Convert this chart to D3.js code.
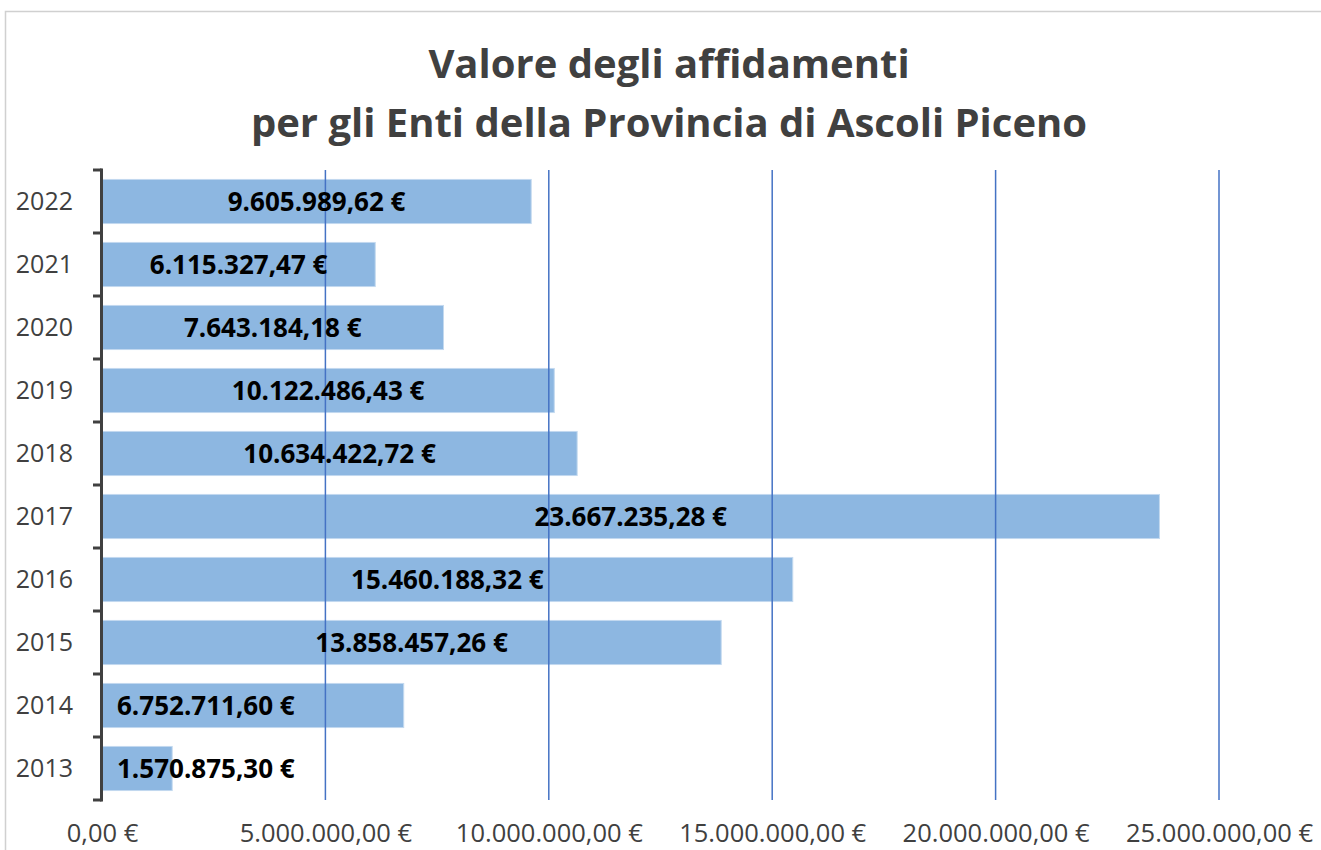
<!DOCTYPE html>
<html>
<head>
<meta charset="utf-8">
<script src="https://cdn.jsdelivr.net/npm/d3@7"></script>
<style>
  body { margin: 0; background: #fff; }
  svg { display: block; }
</style>
</head>
<body>
<svg width="1321" height="850"></svg>
<script>
const years = ["2022", "2021", "2020", "2019", "2018", "2017", "2016", "2015", "2014", "2013"];
const values = [
  9605989.62, 6115327.47, 7643184.18, 10122486.43, 10634422.72,
  23667235.28, 15460188.32, 13858457.26, 6752711.6, 1570875.3,
];
const xTicks = [0, 5000000, 10000000, 15000000, 20000000, 25000000];
const titleLines = ["Valore degli affidamenti", "per gli Enti della Provincia di Ascoli Piceno"];

// etichette spostate a mano all'inizio della barra
const labelsAtBase = ["2014", "2013"];

const data = years.map((y, i) => ({ year: y, value: values[i] }));

const svg = d3.select("svg");
const width = +svg.attr("width");
const height = +svg.attr("height");

const margin = { top: 170, right: 102, bottom: 50, left: 102 };

// formato italiano: 1.234.567,89 €
const it = d3.formatLocale({ decimal: ",", thousands: ".", grouping: [3], currency: ["", " €"] });
const fmt = it.format("$,.2f");

const x = d3.scaleLinear().domain([0, 25000000]).range([margin.left, 1219]);
const y = d3
  .scaleBand()
  .domain(years)
  .range([margin.top, height - margin.bottom])
  .paddingInner(0.3)
  .paddingOuter(0.15);

// bordo dell'area grafico
svg
  .append("rect")
  .attr("x", 5.5)
  .attr("y", 11.5)
  .attr("width", width + 20)
  .attr("height", height + 20)
  .attr("fill", "none")
  .attr("stroke", "#d0d0d0")
  .attr("stroke-width", 1.5);

// titolo
svg
  .append("g")
  .selectAll("text")
  .data(titleLines)
  .enter()
  .append("text")
  .attr("x", 669)
  .attr("y", (d, i) => 78 + i * 59)
  .attr("text-anchor", "middle")
  .attr("font-family", "'Open Sans', sans-serif")
  .attr("font-weight", "bold")
  .attr("font-size", 40)
  .attr("fill", "#404040")
  .text((d) => d);

// barre
svg
  .append("g")
  .selectAll("rect")
  .data(data)
  .enter()
  .append("rect")
  .attr("x", x(0))
  .attr("y", (d) => y(d.year))
  .attr("width", (d) => x(d.value) - x(0))
  .attr("height", y.bandwidth())
  .attr("fill", "#8db7e1")
  .attr("stroke", "#c3d9ef")
  .attr("stroke-width", 1);

// griglia verticale sopra le barre
svg
  .append("g")
  .selectAll("line")
  .data(xTicks.slice(1))
  .enter()
  .append("line")
  .attr("x1", (d) => x(d))
  .attr("x2", (d) => x(d))
  .attr("y1", margin.top)
  .attr("y2", height - margin.bottom)
  .attr("stroke", "#4472c4")
  .attr("stroke-width", 1.5);

// asse x (solo etichette)
const xAxis = svg
  .append("g")
  .attr("transform", `translate(0,${height - margin.bottom})`)
  .call(d3.axisBottom(x).tickValues(xTicks).tickFormat(fmt).tickSize(0).tickPadding(0));
xAxis.select(".domain").remove();
xAxis
  .selectAll("text")
  .attr("y", 42)
  .attr("dy", 0)
  .attr("font-family", "'Open Sans', sans-serif")
  .attr("font-size", 25.5)
  .attr("fill", "#404040");

// asse y
const yAxis = svg
  .append("g")
  .attr("transform", `translate(${x(0)},0)`)
  .call(d3.axisLeft(y).tickSize(0).tickPadding(29));
yAxis.select(".domain").remove();
yAxis
  .selectAll("text")
  .attr("dy", "0.35em")
  .attr("font-family", "'Open Sans', sans-serif")
  .attr("font-size", 25)
  .attr("fill", "#404040");

// linea dell'asse con tacche ai confini delle categorie
const bounds = d3.range(years.length + 1).map((i) => margin.top + i * ((height - margin.bottom - margin.top) / years.length));
const axisG = svg.append("g").attr("stroke", "#404040").attr("stroke-width", 3);
axisG
  .append("line")
  .attr("x1", x(0) - 0.5)
  .attr("x2", x(0) - 0.5)
  .attr("y1", margin.top - 1.5)
  .attr("y2", height - margin.bottom + 1.5);
axisG
  .selectAll(".tick-mark")
  .data(bounds)
  .enter()
  .append("line")
  .attr("class", "tick-mark")
  .attr("x1", x(0) - 9)
  .attr("x2", x(0) - 0.5)
  .attr("y1", (d) => d)
  .attr("y2", (d) => d);

// etichette dei valori
svg
  .append("g")
  .selectAll("text")
  .data(data)
  .enter()
  .append("text")
  .attr("x", (d) => (labelsAtBase.includes(d.year) ? x(0) + 15 : (x(0) + x(d.value)) / 2))
  .attr("y", (d) => y(d.year) + y.bandwidth() / 2)
  .attr("dy", "0.35em")
  .attr("text-anchor", (d) => (labelsAtBase.includes(d.year) ? "start" : "middle"))
  .attr("font-family", "'Open Sans', sans-serif")
  .attr("font-weight", "bold")
  .attr("font-size", 26)
  .attr("fill", "#000")
  .text((d) => fmt(d.value));
</script>
</body>
</html>
